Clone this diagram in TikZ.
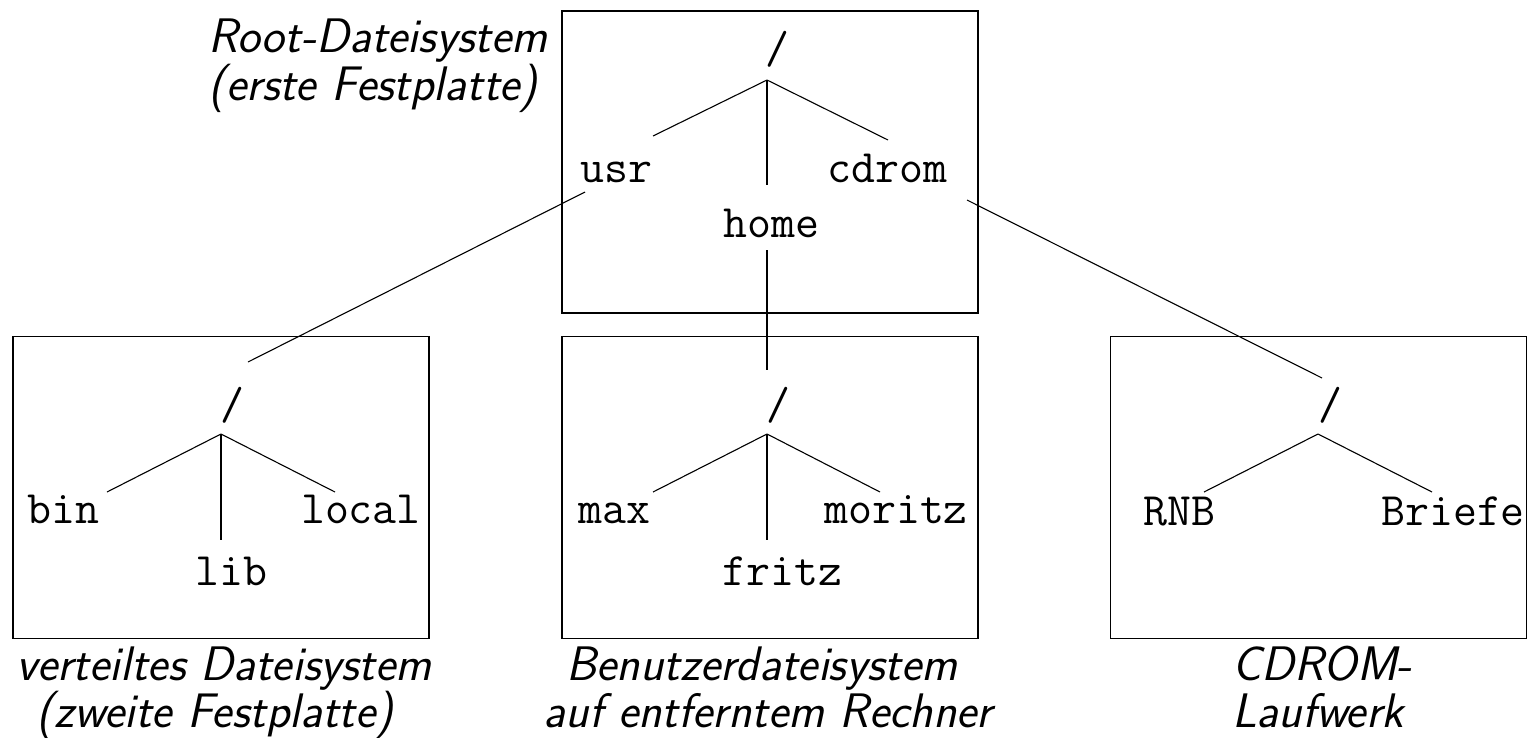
\documentclass[tikz,border=0pt]{standalone}
\begin{document}
\begin{tikzpicture}[x=1pt,y=-1pt,
  fsbox/.style={draw, line width=1.2pt, inner sep=0pt, minimum width=416pt, minimum height=302pt},
  fname/.style={font=\fontsize{46.5}{50}\selectfont\ttfamily, inner sep=0pt, anchor=base west},
  froot/.style={font=\fontsize{46.5}{50}\selectfont\ttfamily, inner sep=0pt, anchor=base},
  capt/.style={font=\fontsize{48.5}{52}\selectfont\sffamily\itshape, inner sep=0pt, anchor=base},
  conn/.style={line width=1.1pt}]
\useasboundingbox (0,0) rectangle (1530,737);
% boxes
\node[fsbox] (rootbox) at (770,162) {};
\node[fsbox] (leftbox) at (221,487.5) {};
\node[fsbox] (midbox) at (770,487.5) {};
\node[fsbox] (rightbox) at (1318.5,487.5) {};
% captions
\node[capt] (c1a) at (378,52) {Root-Dateisystem};
\node[capt] (c1b) at (373,100) {(erste Festplatte)};
\node[capt] (c2a) at (224,680) {verteiltes Dateisystem};
\node[capt] (c2b) at (215,727) {(zweite Festplatte)};
\node[capt] (c3a) at (762,680) {Benutzerdateisystem};
\node[capt] (c3b) at (768,727) {auf entferntem Rechner};
\node[capt] (c4a) at (1322,680) {CDROM-};
\node[capt] (c4b) at (1318,727) {Laufwerk};
% root tree
\node[froot] (rslash) at (777,63) {/};
\node[fname] (usr) at (580,182) {usr};
\node[fname] (cdrom) at (827,182) {cdrom};
\node[fname] (home) at (723,237) {home};
\coordinate (rb) at (767,80);
\coordinate (eusr) at (653,136);
\coordinate (ehome) at (767,185);
\coordinate (ecdrom) at (888,140);
\draw[conn] (rb) -- (eusr);
\draw[conn] (rb) -- (ehome);
\draw[conn] (rb) -- (ecdrom);
% left tree
\node[froot] (lslash) at (232,419) {/};
\node[fname] (bin) at (27,523) {bin};
\node[fname, anchor=base east] (local) at (421,523) {local};
\node[fname] (lib) at (195,585) {lib};
\coordinate (lb) at (221,434);
\coordinate (ebin) at (107,492);
\coordinate (elib) at (221,540);
\coordinate (elocal) at (335,492);
\draw[conn] (lb) -- (ebin);
\draw[conn] (lb) -- (elib);
\draw[conn] (lb) -- (elocal);
% middle tree
\node[froot] (mslash) at (778,419) {/};
\node[fname] (max) at (578,523) {max};
\node[fname] (moritz) at (824,523) {moritz};
\node[fname] (fritz) at (722,585) {fritz};
\coordinate (mb) at (767,434);
\coordinate (emax) at (653,492);
\coordinate (efritz) at (767,540);
\coordinate (emoritz) at (880,492);
\draw[conn] (mb) -- (emax);
\draw[conn] (mb) -- (efritz);
\draw[conn] (mb) -- (emoritz);
% right tree
\node[froot] (tslash) at (1330,419) {/};
\node[fname] (rnb) at (1143,525) {RNB};
\node[fname] (briefe) at (1381,525) {Briefe};
\coordinate (tb) at (1318,434);
\coordinate (ernb) at (1204,492);
\coordinate (ebriefe) at (1432,492);
\draw[conn] (tb) -- (ernb);
\draw[conn] (tb) -- (ebriefe);
% mount connectors
\coordinate (usrout) at (585,192);
\coordinate (leftin) at (248,362);
\coordinate (homeout) at (767,250);
\coordinate (midin) at (767,370);
\coordinate (cdromout) at (967,200);
\coordinate (rightin) at (1322,378);
\draw[conn] (usrout) -- (leftin);
\draw[conn] (homeout) -- (midin);
\draw[conn] (cdromout) -- (rightin);
\end{tikzpicture}
\end{document}
